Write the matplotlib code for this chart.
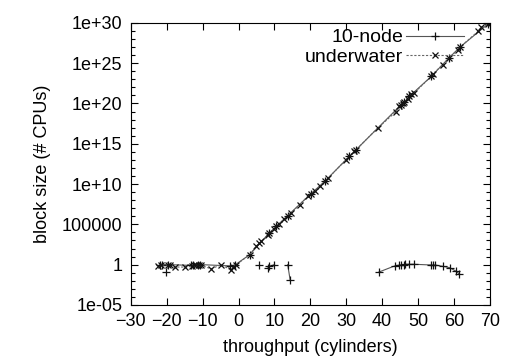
import numpy as np
import matplotlib
matplotlib.use("Agg")
from matplotlib import pyplot as plt
from matplotlib.ticker import FixedLocator, FixedFormatter, NullFormatter

nan = np.nan

# 10-node (nan = break in the line, like gnuplot blank lines)
node_x = [-22.0, -21.2, -19.5, -13.2, -12.6, -11.4, -10.6, -2.3, -1.0,
          3.1, 8.6, 10.5, 13.7, 20.2, 24.0, 30.9, 32.8, 45.3, 46.2, 47.6,
          53.7, 58.6, 61.6, 69.6,
          nan, -20.3,
          nan, 5.8,
          nan, 8.2, 8.6, 10.0,
          nan, 13.7, 14.4,
          nan, 39.1, 43.7, 44.7, 45.3, 46.0, 46.5, 47.6, 49.0, 53.7, 54.1,
          54.6, 56.9, 58.8, 60.6, 61.4]
node_y = [0.8, 1.0, 1.0, 0.8, 1.0, 0.9, 1.0, 0.7, 0.9,
          17, 8.5e3, 5.6e4, 1.2e6, 6.5e8, 2.1e10, 2.8e13, 1.9e14, 7.1e19,
          1.5e20, 7.6e20, 2.3e23, 4.4e25, 9.1e26, 8e29,
          nan, 0.11,
          nan, 1.0,
          nan, 0.4, 0.6, 1.0,
          nan, 1.0, 0.011,
          nan, 0.12, 0.75, 0.83, 1.0, 1.0, 1.1, 1.1, 1.1, 0.9, 0.9,
          0.9, 0.62, 0.42, 0.15, 0.077]

# underwater
uw_x = [-22.3, -21.5, -19.7, -19.2, -17.8, -15.0, -13.0, -12.4, -11.8,
        -11.1, -10.4, -7.6, -4.8, -2.0, -1.6, -0.6,
        3.1, 4.9, 5.8, 6.3, 8.2, 8.6, 10.0, 10.5, 11.4, 12.8, 13.7, 14.7,
        17.0, 19.3, 20.2, 21.2, 22.6, 24.0, 24.9, 30.0, 30.9, 32.3, 32.8,
        38.8, 43.9, 44.8, 45.3, 45.8, 46.2, 47.2, 47.6, 48.1, 49.0, 53.7,
        54.1, 56.9, 58.6, 61.1, 61.6, 66.7, 67.6, 69.6]
uw_y = [0.6, 0.9, 0.9, 0.8, 0.5, 0.5, 0.6, 0.9, 0.8,
        1.0, 0.8, 0.3, 1.0, 0.2, 0.5, 1.0,
        17, 190, 490, 790, 5.2e3, 8.5e3, 2.7e4, 5.6e4, 1.2e5, 4.7e5, 1.2e6,
        2.6e6, 2.8e7, 3.0e8, 6.5e8, 1.2e9, 5.1e9, 2.1e10, 5.0e10, 1.1e13,
        2.8e13, 1.1e14, 1.9e14, 9.1e16, 1.0e19, 4.4e19, 7.1e19, 1.1e20,
        1.5e20, 3.6e20, 7.6e20, 1.3e21, 2.2e21, 2.3e23, 4.6e23, 6.5e24,
        4.4e25, 4.7e26, 9.1e26, 8.7e28, 2.8e29, 8e29]

y_ticks = [1e-5, 1, 1e5, 1e10, 1e15, 1e20, 1e25, 1e30]
y_labels = ["1e-05", "1", "100000", "1e+10", "1e+15", "1e+20", "1e+25", "1e+30"]
x_ticks = list(range(-30, 71, 10))

plt.rcParams['font.family'] = ['Liberation Sans', 'DejaVu Sans']
plt.rcParams['font.size'] = 13

fig = plt.figure(figsize=(5.05, 3.63), dpi=100)
ax = fig.add_axes([0.259, 0.160, 0.711, 0.777])

ax.plot(node_x, node_y, '-', color='#555555', lw=0.8, marker='+', ms=6,
        mew=0.9, mec='#111111', label='10-node')
ax.plot(uw_x, uw_y, '--', color='#666666', lw=0.8, dashes=(2, 1.5),
        marker='x', ms=4.5, mew=0.9, mec='#111111', label='underwater')

ax.set_yscale('log')
ax.set_xlim(-30, 70)
ax.set_ylim(1e-5, 1e30)
ax.set_xticks(x_ticks)
ax.yaxis.set_major_locator(FixedLocator(y_ticks))
ax.yaxis.set_major_formatter(FixedFormatter(y_labels))
ax.yaxis.set_minor_locator(FixedLocator([10.0 ** k for k in range(-5, 31)]))
ax.yaxis.set_minor_formatter(NullFormatter())
ax.tick_params(which='both', direction='in', top=True, right=True, width=0.8)
ax.tick_params(which='major', length=5, pad=6)
ax.tick_params(which='minor', length=3)

ax.set_xlabel('throughput (cylinders)', labelpad=6)
ax.set_ylabel('block size (# CPUs)', labelpad=8)

leg = ax.legend(loc='upper right', bbox_to_anchor=(0.945, 1.0), frameon=False,
                markerfirst=False, handlelength=3.0, borderaxespad=0.0,
                labelspacing=0.1, handletextpad=0.15, borderpad=0.3,
                fontsize=14)

fig.savefig('out.png', dpi=100)
